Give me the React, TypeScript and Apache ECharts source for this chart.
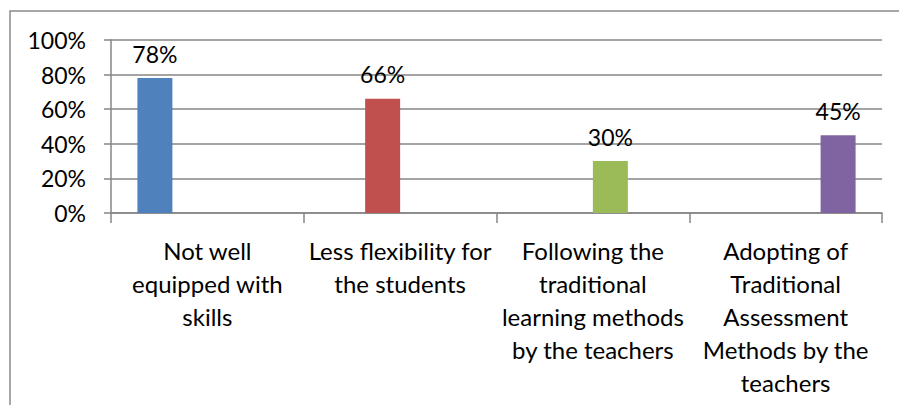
import React, { useEffect, useRef } from "react";
import * as echarts from "echarts";

const categories = [
  "Not well\nequipped with\nskills",
  "Less flexibility for\nthe students",
  "Following the\ntraditional\nlearning methods\nby the teachers",
  "Adopting of\nTraditional\nAssessment\nMethods by the\nteachers",
];
const values = [78, 66, 30, 45];
const colors = ["#4F81BD", "#C0504D", "#9BBB59", "#8064A2"];
const yTicks = { min: 0, max: 100, interval: 20 };

const FONT = "Lato, 'Noto Sans', sans-serif";

export default function App() {
  const ref = useRef<HTMLDivElement>(null);
  useEffect(() => {
    if (!ref.current) return;
    const chart = echarts.init(ref.current, undefined, { renderer: "svg" });
    const series = values.map((v, i) => ({
      type: "bar",
      name: "S" + (i + 1),
      data: categories.map((_, j) => (j === i ? v : "-")),
      barGap: "0%",
      barCategoryGap: "27.4%",
      itemStyle: { color: colors[i] },
      label: {
        show: true,
        position: "top",
        distance: 13,
        formatter: "{c}%",
        color: "#000",
        fontFamily: FONT,
        fontSize: 23,
      },
    }));
    chart.setOption({
      animation: false,
      graphic: [
        {
          type: "rect",
          shape: { x: 10, y: 11, width: 1000, height: 500 },
          style: { fill: "none", stroke: "#8a8a8a", lineWidth: 1.5 },
          silent: true,
        },
      ],
      grid: { left: 111, right: 17, top: 40, bottom: 192, containLabel: false },
      xAxis: {
        type: "category",
        data: categories,
        axisLine: { show: true, lineStyle: { color: "#868686", width: 1.5 } },
        axisTick: { show: true, length: 10, alignWithLabel: false, lineStyle: { color: "#868686", width: 1.5 } },
        axisLabel: {
          interval: 0,
          margin: 21,
          color: "#000",
          fontFamily: FONT,
          fontSize: 24,
          lineHeight: 33,
        },
      },
      yAxis: {
        type: "value",
        min: yTicks.min,
        max: yTicks.max,
        interval: yTicks.interval,
        axisLine: { show: true, lineStyle: { color: "#868686", width: 1.5 } },
        axisTick: { show: true, length: 7, lineStyle: { color: "#868686", width: 1.5 } },
        splitLine: { show: true, lineStyle: { color: "#868686", width: 1.5 } },
        axisLabel: {
          formatter: "{value}%",
          margin: 25,
          color: "#000",
          fontFamily: FONT,
          fontSize: 23,
        },
      },
      series,
    });
    return () => chart.dispose();
  }, []);
  return (
    <div
      ref={ref}
      style={{ position: "fixed", left: 0, top: 0, width: 899, height: 405, background: "#fff" }}
    />
  );
}
